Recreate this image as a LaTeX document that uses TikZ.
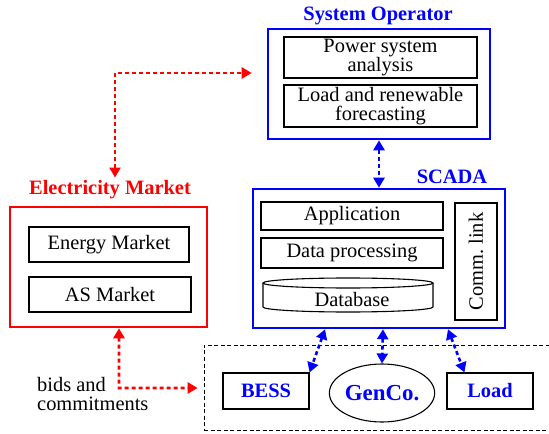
\documentclass[tikz,border=0pt]{standalone}
\usepackage{fontspec}
\setmainfont{Liberation Serif}
\usetikzlibrary{arrows.meta,calc,shapes.geometric}
\definecolor{sblue}{RGB}{0,0,255}
\definecolor{sred}{RGB}{255,0,0}
\begin{document}
\begin{tikzpicture}[x=1bp,y=-1bp,
  font=\fontsize{20.5}{19.5}\selectfont,
  box/.style={draw, line width=1.1bp, inner sep=0pt, align=center},
  bluebox/.style={draw=sblue, line width=2.6bp, inner sep=0pt},
  redbox/.style={draw=sred, line width=2.6bp, inner sep=0pt},
  title/.style={font=\fontsize{20.5}{19.5}\selectfont\bfseries, inner sep=0pt},
  asset/.style={text=sblue, font=\fontsize{20.5}{19.5}\selectfont\bfseries},
  bluelink/.style={sblue, line width=2.6bp, dash pattern=on 4bp off 3bp, {Triangle[length=10bp,width=11bp]}-{Triangle[length=10bp,width=11bp]}},
  redlink/.style={sred, line width=2.6bp, dash pattern=on 4bp off 3bp, {Triangle[length=10bp,width=11bp]}-{Triangle[length=10bp,width=11bp]}}]

\clip (0,0) rectangle (549,434);

% System operator
\node[title, text=sblue] (sotitle) at (378,16) {System Operator};
\node[bluebox, minimum width=222bp, minimum height=110bp] (so) at (379,84) {};
\node[box, minimum width=193bp, minimum height=41bp] (psa) at (380.5,57.5) {Power system\\analysis};
\node[box, minimum width=193bp, minimum height=42bp] (lrf) at (380.5,106) {Load and renewable\\forecasting};

% SCADA
\node[title, text=sblue] (scadatitle) at (452,177) {SCADA};
\node[bluebox, minimum width=252bp, minimum height=139bp] (scada) at (379,258.5) {};
\node[box, minimum width=182bp, minimum height=28bp] (app) at (352,216) {Application};
\node[box, minimum width=182bp, minimum height=30bp] (dp) at (352,253) {Data processing};
\draw[line width=1.1bp] (263,283) -- (263,307)
  arc[start angle=180, end angle=360, x radius=85bp, y radius=5bp] -- (433,283);
\draw[line width=1.1bp] (348,283) ellipse [x radius=85bp, y radius=5bp];
\node[inner sep=0pt] (db) at (352,300) {Database};
\node[box, rotate=90, minimum width=117bp, minimum height=42bp] (comm) at (476,261.5) {Comm.\ link};

% Electricity market
\node[title, text=sred] (emtitle) at (110,190) {Electricity Market};
\node[redbox, minimum width=197bp, minimum height=120bp] (em) at (108.5,267) {};
\node[box, minimum width=160bp, minimum height=35bp] (energy) at (109,244.5) {Energy Market};
\node[box, minimum width=162bp, minimum height=35bp] (as) at (110,294.5) {AS Market};

% Field assets
\node[draw, line width=0.7bp, dash pattern=on 4bp off 2.5bp, minimum width=348bp, minimum height=85bp, inner sep=0pt] (dbox) at (378,387.5) {};
\node[box, asset, minimum width=86bp, minimum height=36bp] (bess) at (266,391) {BESS};
\node[draw, ellipse, line width=1.1bp, inner sep=0pt, minimum width=98bp, minimum height=58bp, asset, font=\fontsize{23}{22}\selectfont\bfseries] (genco) at (382,393) {GenCo.};
\node[box, asset, minimum width=86bp, minimum height=36bp] (load) at (490,391) {Load};
\node[anchor=west, align=left, inner sep=0pt] (bids) at (37,394) {bids and\\commitments};

% Connectors
\coordinate (rbend1) at (115,73);
\coordinate (rbend2) at (119,388);
\draw[redlink] ($(emtitle.north)+(5,-3)$) -- (rbend1) -- ($(so.west)+(-15,-11)$);
\draw[redlink] ($(em.south)+(10.5,0)$) -- (rbend2) -- ($(dbox.west)+(-6,0.5)$);
\draw[bluelink] (so.south) -- (scada.north);
\draw[bluelink] ($(scada.south)+(-54,0)$) -- (bess.north east);
\draw[bluelink] ($(scada.south)+(4,0)$) -- (genco.north);
\draw[bluelink] ($(scada.south)+(69,0)$) -- ($(load.north west)+(18,0)$);
\end{tikzpicture}
\end{document}
